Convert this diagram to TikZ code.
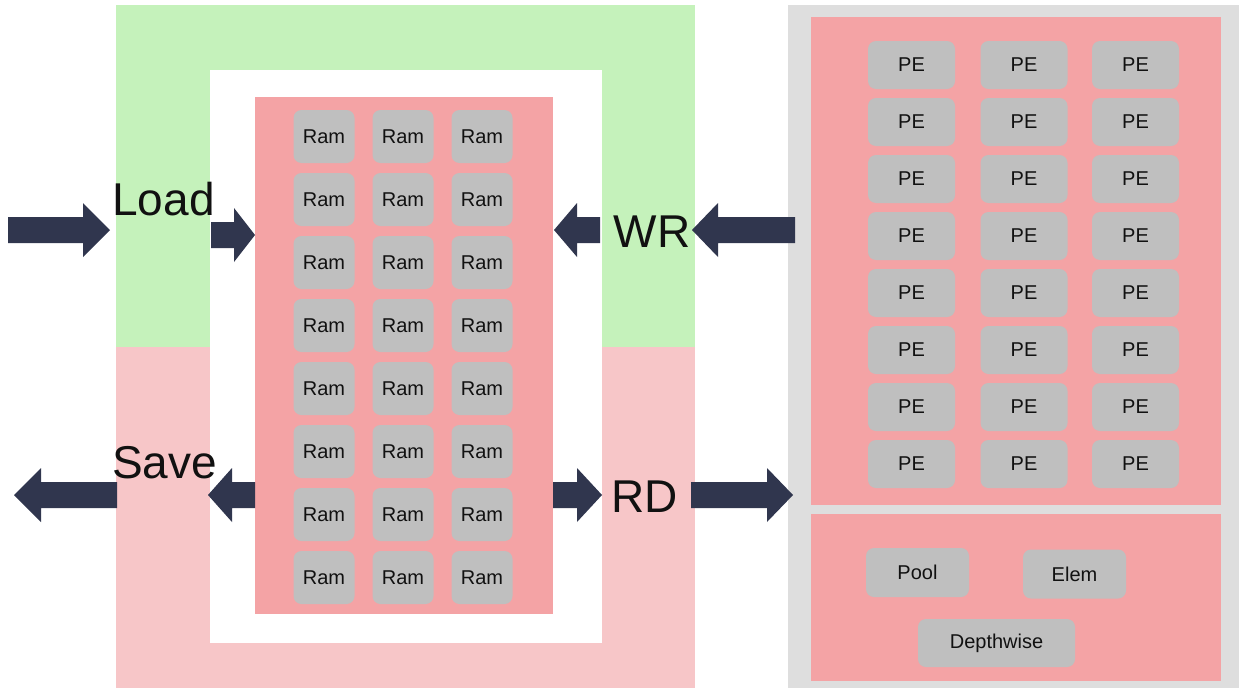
\documentclass[tikz,border=0pt]{standalone}
\usepackage{fontspec}
\setmainfont{Liberation Sans}
\usetikzlibrary{calc}

\definecolor{loadgreen}{HTML}{C5F2BB}
\definecolor{savepink}{HTML}{F7C6C8}
\definecolor{bankred}{HTML}{F4A3A5}
\definecolor{panelgray}{HTML}{DEDEDE}
\definecolor{cellgray}{HTML}{BFBFBF}
\definecolor{navy}{HTML}{30364E}
\definecolor{ink}{HTML}{111111}

\tikzset{
  cell/.style={fill=cellgray, rounded corners=8pt, inner sep=0pt,
               font=\fontsize{20}{24}\selectfont, text=ink},
  ramcell/.style={cell, minimum width=61pt, minimum height=53pt},
  pecell/.style={cell, minimum width=87pt, minimum height=48pt},
  opcell/.style={cell, minimum height=49pt},
  biglabel/.style={font=\fontsize{46}{50}\selectfont, text=ink, inner sep=0pt, anchor=base},
  region/.style={inner sep=0pt, outer sep=0pt},
}

% Thick block arrow from #1 (tail) to #2 (tip); #3 is the x offset from the tip to the head base
\newcommand\blockarrow[3]{%
  \fill[navy] ($(#1)+(0,13)$) -- ($(#2)+(#3,13)$) -- ($(#2)+(#3,27)$) -- (#2)
    -- ($(#2)+(#3,-27)$) -- ($(#2)+(#3,-13)$) -- ($(#1)+(0,-13)$) -- cycle;}

\begin{document}
\begin{tikzpicture}[x=1pt, y=-1pt]
  \useasboundingbox (0,0) rectangle (1239,688);

  % buffer halves
  \fill[loadgreen] (116,5) rectangle (695,347);
  \fill[savepink] (116,347) rectangle (695,688);
  \fill[white] (210,70) rectangle (602,643);

  % memory bank
  \node[region, fill=bankred, minimum width=298pt, minimum height=517pt] (bank) at (404,355.5) {};
  \foreach \r in {0,...,7}
    \foreach \c/\x in {0/324,1/403,2/482}
      \node[ramcell] (ram-\r-\c) at (\x,{136.5+63*\r}) {Ram};

  % compute engine
  \node[region, fill=panelgray, minimum width=451pt, minimum height=683pt] (engine) at (1013.5,346.5) {};
  \node[region, fill=bankred, minimum width=410pt, minimum height=488pt] (pearray) at (1016,261) {};
  \node[region, fill=bankred, minimum width=410pt, minimum height=167pt] (special) at (1016,597.5) {};
  \foreach \r in {0,...,7}
    \foreach \c/\x in {0/911.5,1/1024,2/1135.5}
      \node[pecell] (pe-\r-\c) at (\x,{65+57*\r}) {PE};
  \node[opcell, minimum width=103pt] (pool) at (917.5,572.5) {Pool};
  \node[opcell, minimum width=103pt] (elem) at (1074.5,574) {Elem};
  \node[opcell, minimum width=157pt, minimum height=48pt] (depth) at (996.5,643) {Depthwise};

  % labels
  \node[biglabel] (load) at (163.5,215) {Load};
  \node[biglabel] (save) at (164.5,478) {Save};
  \node[biglabel] (wr) at (652,247) {WR};
  \node[biglabel] (rd) at (644.5,512) {RD};

  % arrow end points
  \coordinate (loadIn) at (8,230);    \coordinate (loadMid) at (110,230);
  \coordinate (loadFrom) at (211,235); \coordinate (loadTo) at (255,235);
  \coordinate (saveFrom) at (255,495); \coordinate (saveMid) at (208,495);
  \coordinate (saveStart) at (117,495); \coordinate (saveOut) at (14,495);
  \coordinate (wrStart) at (795,230);  \coordinate (wrMid) at (692,230);
  \coordinate (wrFrom) at (600,230);   \coordinate (wrTo) at (554,230);
  \coordinate (rdFrom) at (553,495);   \coordinate (rdMid) at (602,495);
  \coordinate (rdStart) at (691,495);  \coordinate (rdOut) at (793,495);

  % data movement
  \blockarrow{loadIn}{loadMid}{-27}
  \blockarrow{loadFrom}{loadTo}{-21}
  \blockarrow{saveFrom}{saveMid}{24}
  \blockarrow{saveStart}{saveOut}{27}
  \blockarrow{wrStart}{wrMid}{26}
  \blockarrow{wrFrom}{wrTo}{23}
  \blockarrow{rdFrom}{rdMid}{-25}
  \blockarrow{rdStart}{rdOut}{-26}
\end{tikzpicture}
\end{document}
